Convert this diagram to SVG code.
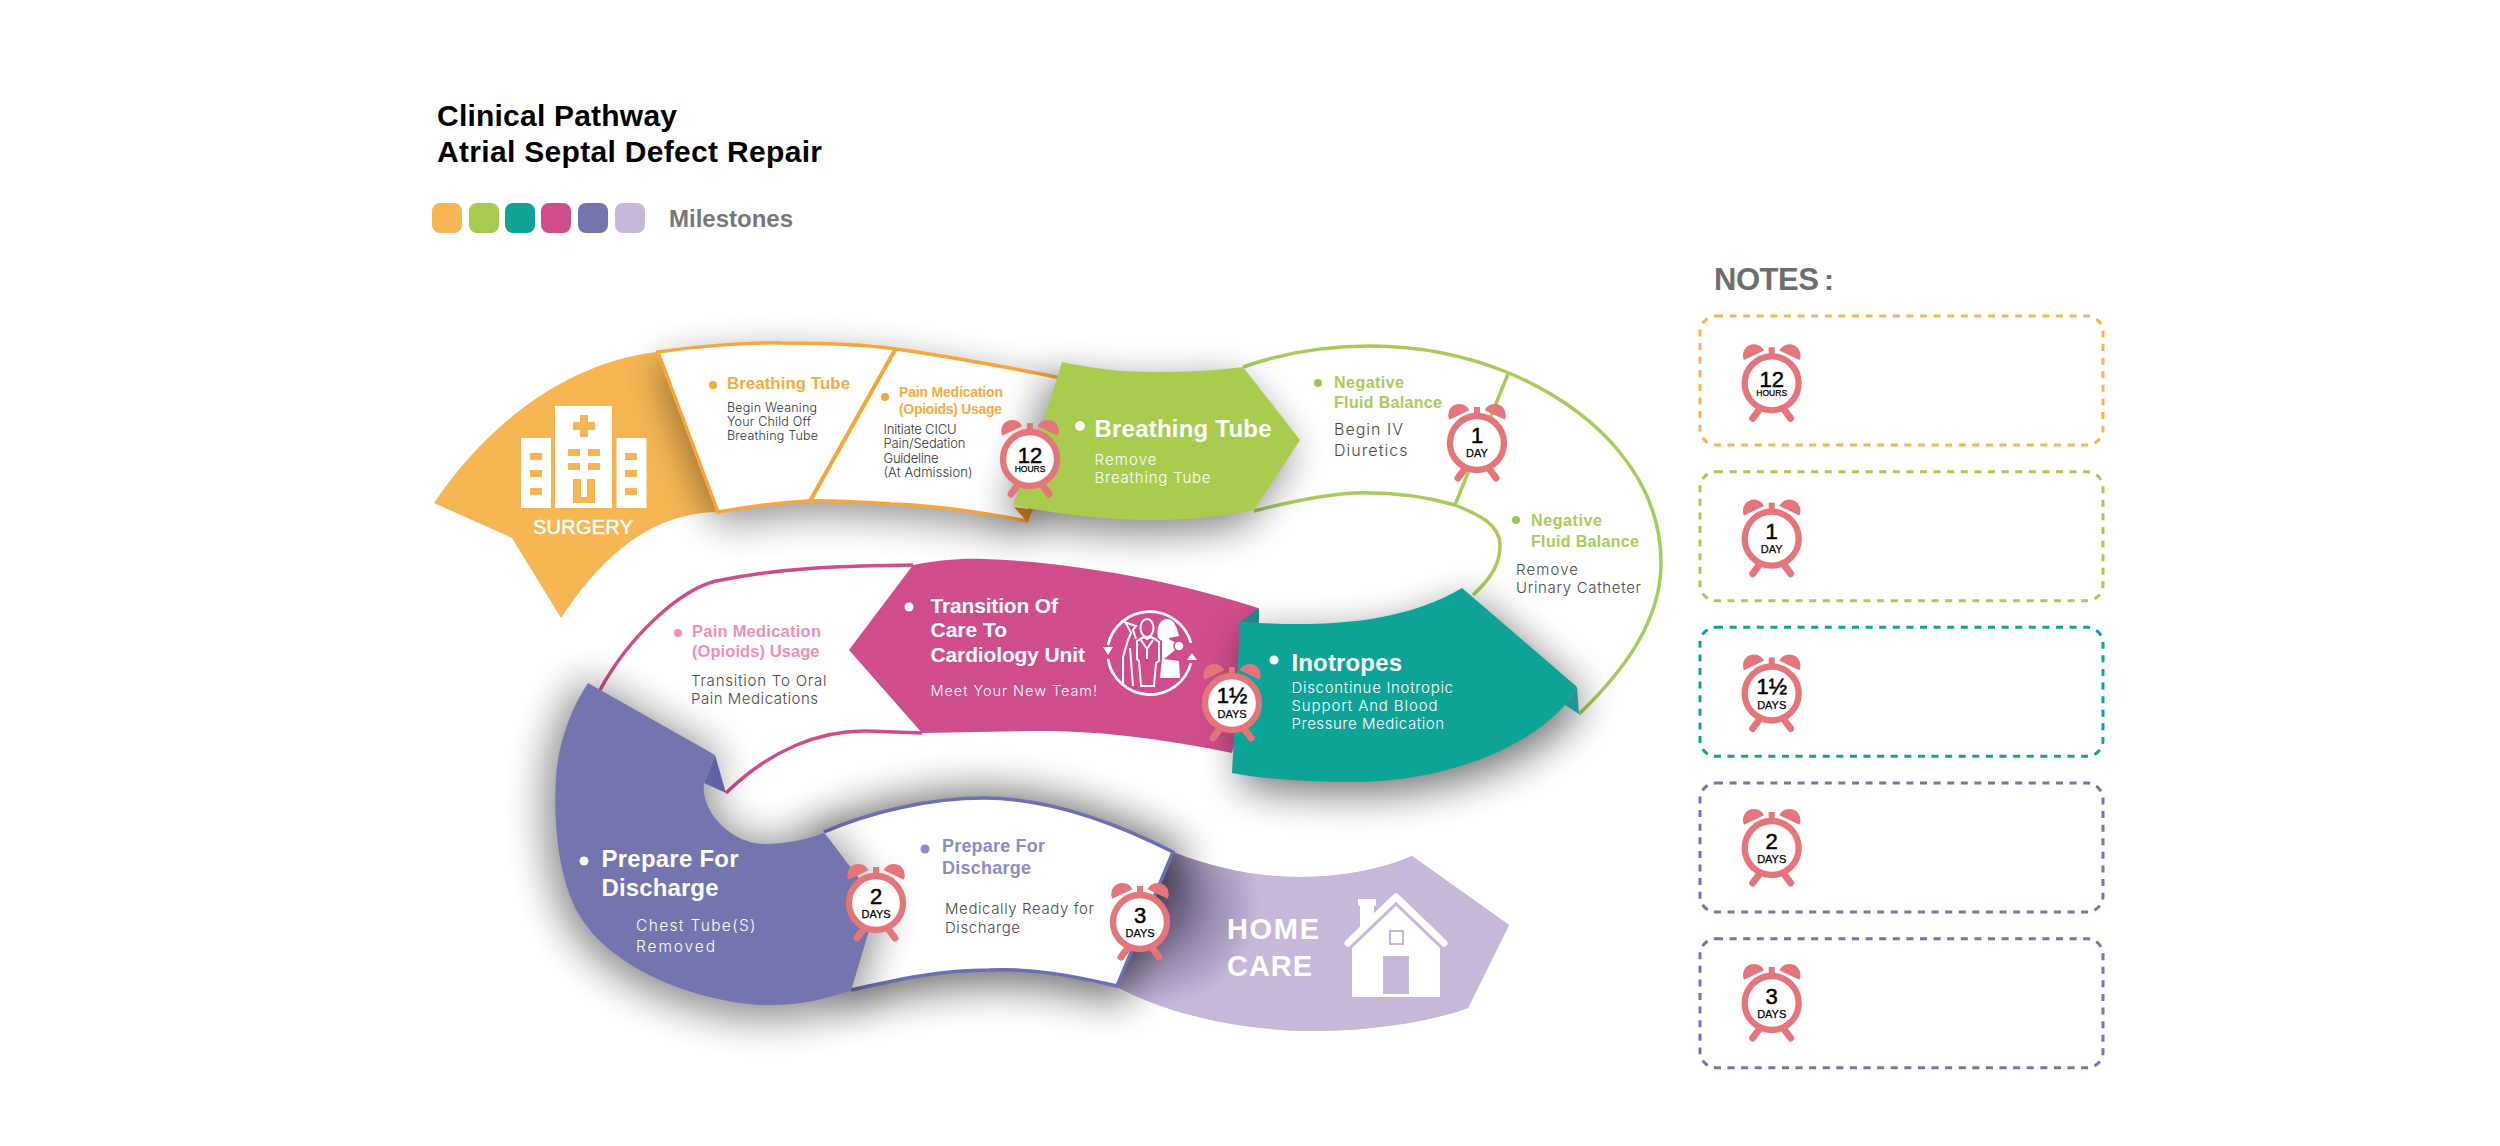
<svg xmlns="http://www.w3.org/2000/svg" xmlns:xlink="http://www.w3.org/1999/xlink" width="2500" height="1146" viewBox="0 0 2500 1146">
<style>
text{font-family:"Liberation Sans",Arial,sans-serif}
.b{font-family:"Inter","Open Sans",sans-serif;font-size:15px;fill:#4a4a4a;font-weight:300}
.w{fill:#fff}
.h{font-weight:700}
.sh{fill:#000;filter:url(#blur)}
.ol{fill:none;stroke-width:3.5;stroke-linejoin:miter}
.note{fill:none;stroke-width:3;stroke-dasharray:7 6.6}
.cn{font-size:22px;text-anchor:middle;fill:#000;stroke:#000;stroke-width:.5}
.cs{font-size:11px;text-anchor:middle;fill:#000;stroke:#000;stroke-width:.25}
</style>
<defs>
<filter id="blur" filterUnits="userSpaceOnUse" x="0" y="0" width="2500" height="1146"><feGaussianBlur stdDeviation="20"/></filter>
<radialGradient id="homeGrad" gradientUnits="userSpaceOnUse" cx="1160" cy="905" r="100"><stop offset=".25" stop-color="#7f7296"/><stop offset="1" stop-color="#c7b8da"/></radialGradient>
<path id="pOrange" d="M658 352C700 346 750 342 780 343C820 343 860 344 896 349C960 358 1010 368 1062 378L1040 470L1027 521C980 512 930 505 891 504C860 502 830 500 808 501C775 503 745 507 718 512Z"/>
<path id="pGreen" d="M1062 362C1090 368 1120 372 1152 372C1185 372 1215 371 1243 367L1300 440L1254 510C1225 516 1190 520 1156 520C1105 520 1055 514 1013 505C1030 460 1048 410 1062 362Z"/>
<path id="pTeal" d="M1240 622L1259 623C1320 626 1400 625 1462 588L1577 687L1565 705C1530 745 1450 782 1353 782C1310 782 1270 780 1232 773Z"/>
<path id="pCell" d="M824 832C870 812 930 798 984 798C1050 798 1120 825 1173 852L1117 986C1070 975 1030 968 989 970C940 970 895 980 851 990L877 903Z"/>
<path id="pPurple" d="M588 683L715 755L704 783C700 810 730 844 765 844C785 844 805 840 824 833L877 903L851 990C825 1000 795 1006 765 1005C700 1003 610 970 578 913C560 880 553 830 556 777C558 745 570 710 588 683Z"/>
<g id="clock">
<path fill="#e4757a" d="M-27.7 -23.3A11 11 0 0 1 -7.7 -32.7ZM7.7 -32.7A11 11 0 0 1 27.7 -23.3ZM-3 -36H3V-28H-3Z"/>
<path stroke="#e4757a" stroke-width="7" stroke-linecap="round" fill="none" d="M-13 27L-19 35M13 27L19 35"/>
<circle r="27" fill="#fff" stroke="#e4757a" stroke-width="6.300"/>
</g>
</defs>
<rect width="2500" height="1146" fill="#fff"/>

<g id="title">
<text class="h" x="437" y="126" font-size="30" textLength="240" fill="#000">Clinical Pathway</text>
<text class="h" x="437" y="162" font-size="30" textLength="385" fill="#000">Atrial Septal Defect Repair</text>
</g>
<g id="legend">
<rect x="432" y="203" width="30" height="30" rx="8" fill="#f6b653"/>
<rect x="469" y="203" width="30" height="30" rx="8" fill="#a9cc4e"/>
<rect x="505" y="203" width="30" height="30" rx="8" fill="#0da397"/>
<rect x="541" y="203" width="30" height="30" rx="8" fill="#d04d8c"/>
<rect x="578" y="203" width="30" height="30" rx="8" fill="#7474ae"/>
<rect x="615" y="203" width="30" height="30" rx="8" fill="#c7b8da"/>
<text class="h" x="669" y="227" font-size="24" textLength="124" fill="#777">Milestones</text>
</g>

<g id="surgery">
<path fill="#f6b653" d="M657 352C570 362 490 420 434 503L512 538L561 618C600 560 640 525 690 515Q705 512 718 512Z"/>
<g fill="#fff">
<rect x="521" y="438" width="30" height="70"/><rect x="555" y="406" width="57" height="102"/><rect x="616.500" y="438" width="30" height="70"/>
</g>
<g fill="#f6b653">
<path d="M580 415H588V422H595V430H588V437H580V430H573V422H580Z"/>
<rect x="530" y="453" width="12" height="7"/><rect x="530" y="470" width="12" height="7"/><rect x="530" y="488" width="12" height="7"/>
<rect x="625" y="453" width="12" height="7"/><rect x="625" y="470" width="12" height="7"/><rect x="625" y="488" width="12" height="7"/>
<rect x="568" y="449" width="12" height="7"/><rect x="588" y="449" width="12" height="7"/><rect x="568" y="463" width="12" height="7"/><rect x="588" y="463" width="12" height="7"/>
<path d="M573 479H581V497H587V479H595V503H573Z"/>
</g>
<text x="533" y="534" font-size="20" textLength="100" fill="#fff" stroke="#fff" stroke-width=".5">SURGERY</text>
</g>

<g id="orange-cells">
<use xlink:href="#pOrange" href="#pOrange" class="sh" opacity=".45" transform="translate(0,12)"/>
<use xlink:href="#pOrange" href="#pOrange" fill="#fff" stroke="#f6a63b" stroke-width="3.5"/>
<path d="M895.500 349L810 501" stroke="#f6a63b" stroke-width="4" fill="none"/>
<path d="M1014 507L1027 522L1033 510Z" fill="#e08a1e"/>
<circle cx="713" cy="385" r="4" fill="#f6a63b"/>
<text class="h" x="727" y="389" font-size="16.800" textLength="123" fill="#f6ac45">Breathing Tube</text>
<text class="b" x="727" y="412" style="font-size:12.500px;fill:#333" textLength="90">Begin Weaning</text>
<text class="b" x="727" y="426" style="font-size:12.500px;fill:#333" textLength="84">Your Child Off</text>
<text class="b" x="727" y="440" style="font-size:12.500px;fill:#333" textLength="91">Breathing Tube</text>
<circle cx="885" cy="397" r="4" fill="#f6a63b"/>
<text class="h" x="899" y="397" font-size="14" textLength="104" fill="#f6ac45">Pain Medication</text>
<text class="h" x="899" y="414" font-size="14" textLength="103" fill="#f6ac45">(Opioids) Usage</text>
<text class="b" x="883.500" y="434" style="font-size:13px;fill:#333" textLength="73">Initiate CICU</text>
<text class="b" x="883.500" y="448" style="font-size:13px;fill:#333" textLength="82">Pain/Sedation</text>
<text class="b" x="883.500" y="463" style="font-size:13px;fill:#333" textLength="55">Guideline</text>
<text class="b" x="883.500" y="477" style="font-size:13px;fill:#333" textLength="89">(At Admission)</text>
</g>

<g id="negative-fluid-cells">
<path fill="#fff" d="M1243 367C1285 352 1330 346 1370 346C1420 346 1465 355 1509 373C1600 412 1661 480 1661 563C1661 620 1625 670 1579 714L1473 595C1495 575 1500 560 1500 545C1500 525 1480 515 1455 505C1420 495 1385 492 1353 493C1320 495 1285 503 1254 511Z"/>
<path class="ol" stroke="#a9cc58" d="M1243 367C1285 352 1330 346 1370 346C1420 346 1465 355 1509 373C1600 412 1661 480 1661 563C1661 620 1625 670 1579 714M1473 595C1495 575 1500 560 1500 545C1500 525 1480 515 1455 505C1420 495 1385 492 1353 493C1320 495 1285 503 1254 511M1508 374L1455 505"/>
<circle cx="1318" cy="383" r="4" fill="#a3c655"/>
<text class="h" x="1334" y="388" font-size="16" textLength="70" fill="#a9cc58">Negative</text>
<text class="h" x="1334" y="408" font-size="16" textLength="108" fill="#a9cc58">Fluid Balance</text>
<text class="b" x="1334" y="435" style="font-size:16px" textLength="69">Begin IV</text>
<text class="b" x="1334" y="456" style="font-size:16px" textLength="73.500">Diuretics</text>
<circle cx="1516" cy="520" r="4" fill="#a3c655"/>
<text class="h" x="1531" y="526" font-size="16" textLength="71" fill="#a9cc58">Negative</text>
<text class="h" x="1531" y="547" font-size="16" textLength="108" fill="#a9cc58">Fluid Balance</text>
<text class="b" x="1516" y="575" style="font-size:15px" textLength="62">Remove</text>
<text class="b" x="1516" y="593" style="font-size:15px" textLength="125">Urinary Catheter</text>
</g>

<g id="breathing-tube">
<use xlink:href="#pGreen" href="#pGreen" class="sh" opacity=".5" transform="translate(-8,12)"/>
<use xlink:href="#pGreen" href="#pGreen" fill="#a9cc4e"/>
<circle cx="1080" cy="426" r="5" fill="#fff"/>
<text class="h w" x="1094.500" y="437" font-size="24" textLength="177">Breathing Tube</text>
<text class="b" x="1094.500" y="465" style="font-size:15px;fill:#fff" textLength="62">Remove</text>
<text class="b" x="1094.500" y="483" style="font-size:15px;fill:#fff" textLength="116">Breathing Tube</text>
</g>

<g id="home-care">
<path fill="#c7b8da" d="M1173 852C1220 870 1260 877 1300 877C1340 877 1380 870 1412 856L1509 925L1468 1008C1420 1025 1360 1031 1310 1031C1240 1030 1170 1015 1117 987Z"/>
<path fill="url(#homeGrad)" d="M1173 852C1220 870 1260 877 1300 877C1340 877 1380 870 1412 856L1509 925L1468 1008C1420 1025 1360 1031 1310 1031C1240 1030 1170 1015 1117 987Z"/>
<text class="h w" x="1227" y="939" font-size="29" textLength="92">HOME</text>
<text class="h w" x="1227" y="976" font-size="29" textLength="85">CARE</text>
<path fill="#fff" d="M1352 948L1396 906L1440 948V997H1352ZM1358 899H1376V906H1374V920L1360 933V906H1358Z"/>
<path fill="none" stroke="#fff" stroke-width="7" stroke-linecap="round" stroke-linejoin="round" d="M1348 943L1396 897L1444 943"/>
<rect x="1383" y="956" width="26" height="38" fill="#c7b8da"/>
<rect x="1390" y="931" width="13" height="13" fill="#fff" stroke="#c7b8da" stroke-width="2"/>
</g>

<g id="ready-for-discharge">
<use xlink:href="#pCell" href="#pCell" class="sh" opacity=".55" stroke="#000" stroke-width="24" stroke-linejoin="round" transform="translate(0,4)"/>
<use xlink:href="#pCell" href="#pCell" fill="#fff"/>
<path class="ol" stroke="#6c6fb2" d="M824 832C870 812 930 798 984 798C1050 798 1120 825 1173 852L1117 986C1070 975 1030 968 989 970C940 970 895 980 851 990"/>
<circle cx="925" cy="849" r="4.500" fill="#8c8cc8"/>
<text class="h" x="942" y="852" font-size="18" textLength="103" fill="#8c8cc8">Prepare For</text>
<text class="h" x="942" y="874" font-size="18" textLength="89" fill="#8c8cc8">Discharge</text>
<text class="b" x="945" y="914" style="font-size:15px" textLength="149">Medically Ready for</text>
<text class="b" x="945" y="933" style="font-size:15px" textLength="75">Discharge</text>
</g>

<g id="pain-medication-transition">
<path fill="#fff" d="M913 565C850 566 790 566 716 581C680 590 630 635 600 690L726 793C770 750 820 730 867 731L922 733L849 650Z"/>
<path class="ol" stroke="#d04d8c" d="M913 565C850 566 790 566 716 581C680 590 630 635 600 690M726 793C770 750 820 730 867 731L922 733"/>
<circle cx="678" cy="633" r="4" fill="#ee8fbe"/>
<text class="h" x="692" y="637" font-size="16.500" textLength="129" fill="#ee8fbe">Pain Medication</text>
<text class="h" x="692" y="657" font-size="16.500" textLength="127.500" fill="#ee8fbe">(Opioids) Usage</text>
<text class="b" x="691" y="686" style="font-size:15px" textLength="135.500">Transition To Oral</text>
<text class="b" x="691" y="704" style="font-size:15px" textLength="127">Pain Medications</text>
</g>

<g id="transition-of-care">
<path fill="#d04d8c" d="M913 565C940 560 960 558 985 559C1080 562 1190 585 1258 608L1259 640L1232 753C1170 740 1100 730 1032 731L922 733L849 650Z"/>
<circle cx="909" cy="607" r="4.500" fill="#fff"/>
<text class="h w" x="930.500" y="612.500" font-size="21" textLength="127.500">Transition Of</text>
<text class="h w" x="930.500" y="637" font-size="21" textLength="76.500">Care To</text>
<text class="h w" x="930.500" y="662" font-size="21" textLength="154.500">Cardiology Unit</text>
<text class="b" x="930.500" y="696" style="font-size:14.500px;fill:#fff" textLength="166.500">Meet Your New Team!</text>
<g id="team-icon" transform="translate(1150,653)">
<path fill="none" stroke="#fff" stroke-width="2.800" d="M-42 -8A42.800 42.800 0 0 1 41 -10M41 10A42.500 42.500 0 0 1 -42 6"/>
<path fill="#fff" d="M-47 -6H-37L-42 2ZM37 7H47L42 0Z"/>
<ellipse cx="-3" cy="-25" rx="6.500" ry="9" fill="none" stroke="#fff" stroke-width="2"/>
<path fill="none" stroke="#fff" stroke-width="2" d="M-13 -12Q-8 -15 -6 -16L-3 -14L1 -16Q6 -14 9 -11V8L6 10L4 33H-9L-11 8L-13 6ZM-9 -13L-3 -4V6M3 -13L-3 -4"/>
<path fill="none" stroke="#fff" stroke-width="2" d="M-26 -31L-14 -27L-17 -23L-14 -14M-24 -30L-19 -20L-22 -13L-27 4L-27 33M-20 -5L-17 33"/>
<path fill="#fff" d="M8 -15C6 -26 10 -34 17 -34C24 -34 27 -26 29 -17L19 -15L20 -13C25 -11 27 -10 29 -8L24 -2L14 6L29 8L30 25H10L12 6V-12Z"/>
<circle cx="29" cy="-7" r="5" fill="#fff" stroke="#d04d8c" stroke-width="1.500"/>
</g>
</g>

<g id="prepare-for-discharge">
<use xlink:href="#pPurple" href="#pPurple" class="sh" opacity=".45" stroke="#000" stroke-width="16" stroke-linejoin="round" transform="translate(-3,6)"/>
<path d="M715 755L704 783L726 793Z" fill="#5f62a3"/>
<use xlink:href="#pPurple" href="#pPurple" fill="#7474ae"/>
<circle cx="584" cy="861" r="4.500" fill="#fff"/>
<text class="h w" x="601.500" y="867" font-size="24" textLength="137">Prepare For</text>
<text class="h w" x="601.500" y="896" font-size="24" textLength="117">Discharge</text>
<text class="b" x="636" y="931" style="font-size:15.500px;fill:#fff" textLength="119.500">Chest Tube(S)</text>
<text class="b" x="636" y="952" style="font-size:15.500px;fill:#fff" textLength="79">Removed</text>
</g>

<g id="inotropes">
<use xlink:href="#pTeal" href="#pTeal" class="sh" opacity=".55" transform="translate(8,12)"/>
<path d="M1240 622L1259 608V623Z" fill="#1b8a86"/>
<use xlink:href="#pTeal" href="#pTeal" fill="#0da397"/>
<path d="M1577 687L1579 714L1565 705Z" fill="#1f9690"/>
<circle cx="1274" cy="660" r="4.500" fill="#fff"/>
<text class="h w" x="1291.500" y="671" font-size="24" textLength="110.500">Inotropes</text>
<text class="b" x="1291.500" y="693" style="font-size:15px;fill:#fff" textLength="161.500">Discontinue Inotropic</text>
<text class="b" x="1291.500" y="711" style="font-size:15px;fill:#fff" textLength="146">Support And Blood</text>
<text class="b" x="1291.500" y="729" style="font-size:15px;fill:#fff" textLength="152.500">Pressure Medication</text>
</g>

<g id="clock-12-hours" transform="translate(1030,459)"><use xlink:href="#clock" href="#clock"/><text class="cn" y="3.500">12</text><text class="cs" y="12.700" style="font-size:8.500px">HOURS</text></g>
<g id="clock-1-day" transform="translate(1477,443)"><use xlink:href="#clock" href="#clock"/><text class="cn" y="0">1</text><text class="cs" y="14">DAY</text></g>
<g id="clock-1-half-days" transform="translate(1232,703)"><use xlink:href="#clock" href="#clock"/><text class="cn" y="0">1½</text><text class="cs" y="15">DAYS</text></g>
<g id="clock-2-days" transform="translate(876,903)"><use xlink:href="#clock" href="#clock"/><text class="cn" y="1">2</text><text class="cs" y="15">DAYS</text></g>
<g id="clock-3-days" transform="translate(1140,922)"><use xlink:href="#clock" href="#clock"/><text class="cn" y="1">3</text><text class="cs" y="15">DAYS</text></g>

<g id="notes">
<text class="h" x="1714" y="290" font-size="31" textLength="105" fill="#6d6e70">NOTES</text>
<text class="h" x="1824" y="290" font-size="30" fill="#6d6e70">:</text>
<g id="note-12-hours"><rect class="note" x="1700" y="316" width="403" height="129" rx="16" stroke="#f9b44e"/><g transform="translate(1771.700,383.300)"><use xlink:href="#clock" href="#clock"/><text class="cn" y="3.500">12</text><text class="cs" y="12.700" style="font-size:8.500px">HOURS</text></g></g>
<g id="note-1-day"><rect class="note" x="1700" y="471.700" width="403" height="129" rx="16" stroke="#a9cc4e"/><g transform="translate(1771.700,538.700)"><use xlink:href="#clock" href="#clock"/><text class="cn" y="0">1</text><text class="cs" y="14">DAY</text></g></g>
<g id="note-1-half-days"><rect class="note" x="1700" y="627.300" width="403" height="129" rx="16" stroke="#0da397"/><g transform="translate(1771.700,693.500)"><use xlink:href="#clock" href="#clock"/><text class="cn" y="0">1½</text><text class="cs" y="15">DAYS</text></g></g>
<g id="note-2-days"><rect class="note" x="1700" y="783" width="403" height="129" rx="16" stroke="#7474ae"/><g transform="translate(1771.700,848)"><use xlink:href="#clock" href="#clock"/><text class="cn" y="1">2</text><text class="cs" y="15">DAYS</text></g></g>
<g id="note-3-days"><rect class="note" x="1700" y="938.700" width="403" height="129" rx="16" stroke="#7474ae"/><g transform="translate(1771.700,1003)"><use xlink:href="#clock" href="#clock"/><text class="cn" y="1">3</text><text class="cs" y="15">DAYS</text></g></g>
</g>
</svg>
